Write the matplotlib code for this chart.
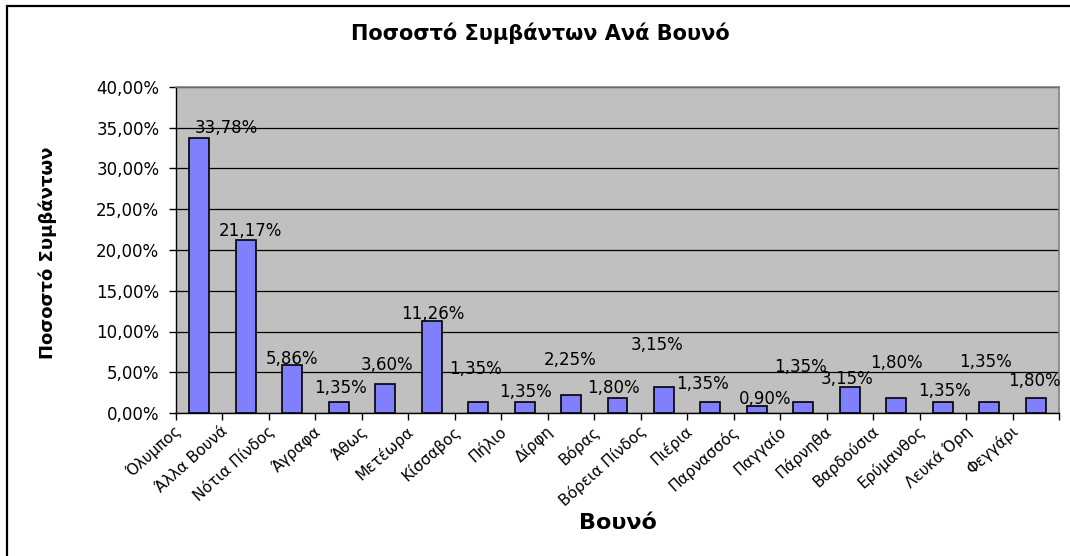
import matplotlib
matplotlib.use("Agg")
import matplotlib.pyplot as plt
import matplotlib.transforms as mtransforms
from matplotlib.patches import Rectangle
from matplotlib.ticker import FuncFormatter, FixedLocator
import numpy as np

# data
mountains = ["Όλυμπος", "Άλλα Βουνά", "Νότια Πίνδος", "Άγραφα", "Άθως", "Μετέωρα",
             "Κίσσαβος", "Πήλιο", "Δίρφη", "Βόρας", "Βόρεια Πίνδος", "Πιέρια",
             "Παρνασσός", "Παγγαίο", "Πάρνηθα", "Βαρδούσια", "Ερύμανθος",
             "Λευκά Όρη", "Φεγγάρι"]
percent = [33.78, 21.17, 5.86, 1.35, 3.60, 11.26, 1.35, 1.35, 2.25, 1.80, 3.15,
           1.35, 0.90, 1.35, 3.15, 1.80, 1.35, 1.35, 1.80]

# where the (misplaced) value labels sit, in pixels from the bar top
label_nudge = [(27, 10), (5, 9), (0, 6), (2, 14), (2, 19), (1, 7), (-3, 33),
               (1, 10), (-1, 35), (-4, 10), (-7, 42), (-8, 18), (8, 7), (-3, 35),
               (-3, 8), (0, 35), (2, 11), (-4, 40), (-1, 17)]

plt.rcParams['font.family'] = ['DejaVu Sans']

fig = plt.figure(figsize=(10.70, 5.56), dpi=100)
fig.patch.set_facecolor('white')

# outer chart frame (cropped on the right and bottom)
fig.patches.append(Rectangle((7 / 1070, -0.1), 1.2, 550 / 556 + 0.1,
                             transform=fig.transFigure, fill=False,
                             edgecolor='black', linewidth=1.6))

ax = fig.add_axes([176 / 1070, 143 / 556, 883 / 1070, 326 / 556])
ax.set_facecolor('#C0C0C0')

x = np.arange(len(mountains))
bars = ax.bar(x, percent, width=0.43, color='#8080FF', edgecolor='black',
              linewidth=1.2, zorder=3)

ax.set_xlim(-0.5, len(mountains) - 0.5)
ax.set_ylim(0, 40)
ax.set_yticks(np.arange(0, 41, 5))
ax.yaxis.set_major_formatter(FuncFormatter(lambda v, p: f"{v:.2f}".replace('.', ',') + '%'))
ax.grid(axis='y', color='black', linewidth=0.9, zorder=1)
ax.set_axisbelow(True)

for s in ['top', 'right']:
    ax.spines[s].set_color('#808080')
    ax.spines[s].set_linewidth(1.2)
for s in ['left', 'bottom']:
    ax.spines[s].set_color('black')
    ax.spines[s].set_linewidth(1.0)

ax.tick_params(axis='y', direction='out', length=5, width=1, labelsize=12, pad=7)

# category labels at the centres, tick marks between categories
ax.set_xticks(x)
ax.set_xticklabels(mountains, rotation=42, ha='right', va='center',
                   rotation_mode='anchor', fontsize=11)
ax.tick_params(axis='x', which='major', length=0, pad=0)
ax.xaxis.set_minor_locator(FixedLocator(np.arange(-0.5, len(mountains), 1)))
ax.tick_params(axis='x', which='minor', direction='out', length=5, width=1)
shift = mtransforms.ScaledTranslation(-20 / 100, -16 / 100, fig.dpi_scale_trans)
for lab in ax.get_xticklabels():
    lab.set_transform(lab.get_transform() + shift)

for i, (xi, v) in enumerate(zip(x, percent)):
    dx, dy = label_nudge[i]
    ax.annotate(f"{v:.2f}".replace('.', ',') + '%', (xi, v),
                xytext=(dx, dy), textcoords='offset pixels',
                ha='center', va='center', fontsize=12, zorder=4,
                annotation_clip=False)

fig.text(540 / 1070, 1 - 33 / 556, "Ποσοστό Συμβάντων Ανά Βουνό",
         ha='center', va='center', fontsize=15, fontweight='bold')
fig.text(618 / 1070, 1 - 523 / 556, "Βουνό", ha='center', va='center',
         fontsize=16, fontweight='bold')
fig.text(48 / 1070, 1 - 253 / 556, "Ποσοστό Συμβάντων", ha='center', va='center',
         rotation=90, fontsize=13, fontweight='bold')

fig.savefig("out.png", dpi=100)
